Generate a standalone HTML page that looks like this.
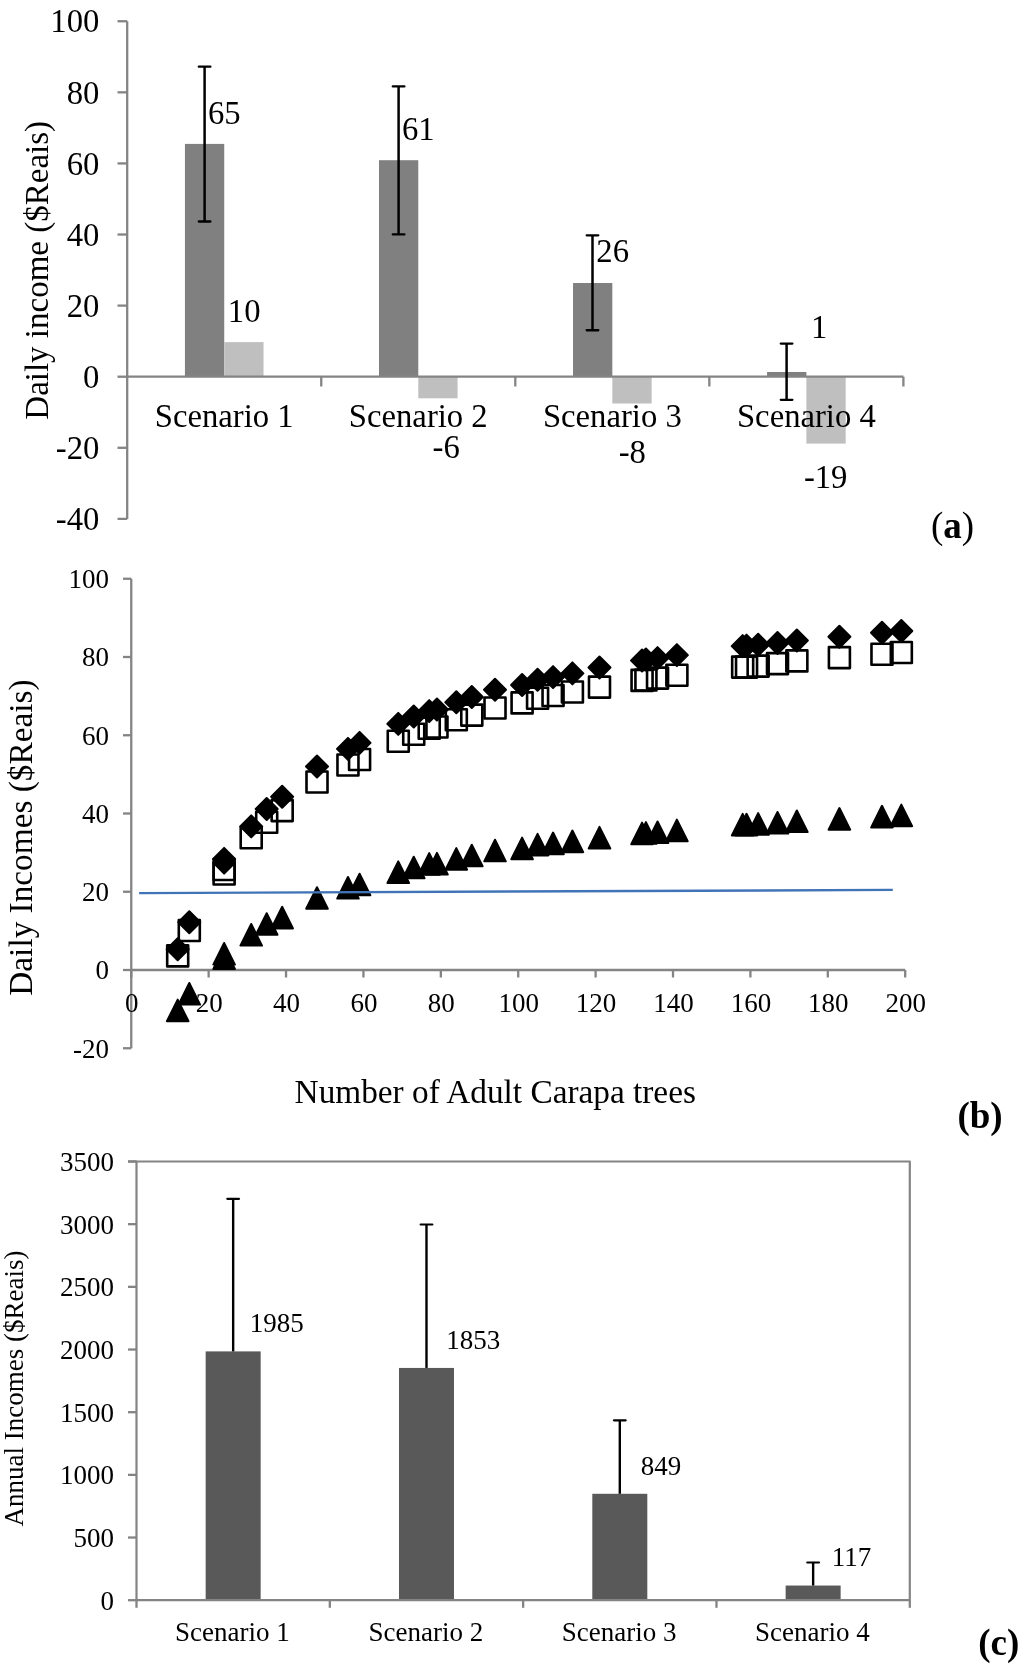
<!DOCTYPE html>
<html><head><meta charset="utf-8"><title>Chart</title>
<style>
html,body{margin:0;padding:0;background:#fff;}
body{width:1024px;height:1668px;overflow:hidden;}
svg{display:block;will-change:transform;}
text{font-family:"Liberation Serif",serif;fill:#000;}
</style></head><body>
<svg width="1024" height="1668" viewBox="0 0 1024 1668">
<rect width="1024" height="1668" fill="#fff"/>
<line x1="127.20" y1="21.25" x2="127.20" y2="518.88" stroke="#848484" stroke-width="2.3"/>
<line x1="117.50" y1="518.88" x2="127.20" y2="518.88" stroke="#848484" stroke-width="2.3"/>
<text x="99.40" y="530.08" font-size="32.7" text-anchor="end">-40</text>
<line x1="117.50" y1="447.79" x2="127.20" y2="447.79" stroke="#848484" stroke-width="2.3"/>
<text x="99.40" y="458.99" font-size="32.7" text-anchor="end">-20</text>
<line x1="117.50" y1="376.70" x2="127.20" y2="376.70" stroke="#848484" stroke-width="2.3"/>
<text x="99.40" y="387.90" font-size="32.7" text-anchor="end">0</text>
<line x1="117.50" y1="305.61" x2="127.20" y2="305.61" stroke="#848484" stroke-width="2.3"/>
<text x="99.40" y="316.81" font-size="32.7" text-anchor="end">20</text>
<line x1="117.50" y1="234.52" x2="127.20" y2="234.52" stroke="#848484" stroke-width="2.3"/>
<text x="99.40" y="245.72" font-size="32.7" text-anchor="end">40</text>
<line x1="117.50" y1="163.43" x2="127.20" y2="163.43" stroke="#848484" stroke-width="2.3"/>
<text x="99.40" y="174.63" font-size="32.7" text-anchor="end">60</text>
<line x1="117.50" y1="92.34" x2="127.20" y2="92.34" stroke="#848484" stroke-width="2.3"/>
<text x="99.40" y="103.54" font-size="32.7" text-anchor="end">80</text>
<line x1="117.50" y1="21.25" x2="127.20" y2="21.25" stroke="#848484" stroke-width="2.3"/>
<text x="99.40" y="32.45" font-size="32.7" text-anchor="end">100</text>
<rect x="184.93" y="143.90" width="39.30" height="232.80" fill="#808080"/>
<rect x="224.23" y="342.10" width="39.30" height="34.60" fill="#bfbfbf"/>
<rect x="378.98" y="160.20" width="39.30" height="216.50" fill="#808080"/>
<rect x="418.28" y="376.70" width="39.30" height="21.60" fill="#bfbfbf"/>
<rect x="573.03" y="283.00" width="39.30" height="93.70" fill="#808080"/>
<rect x="612.33" y="376.70" width="39.30" height="26.80" fill="#bfbfbf"/>
<rect x="767.08" y="372.00" width="39.30" height="4.70" fill="#808080"/>
<rect x="806.38" y="376.70" width="39.30" height="66.90" fill="#bfbfbf"/>
<line x1="126.20" y1="376.70" x2="903.40" y2="376.70" stroke="#848484" stroke-width="2.3"/>
<line x1="321.25" y1="376.70" x2="321.25" y2="386.50" stroke="#848484" stroke-width="2.3"/>
<line x1="515.30" y1="376.70" x2="515.30" y2="386.50" stroke="#848484" stroke-width="2.3"/>
<line x1="709.35" y1="376.70" x2="709.35" y2="386.50" stroke="#848484" stroke-width="2.3"/>
<line x1="903.40" y1="376.70" x2="903.40" y2="386.50" stroke="#848484" stroke-width="2.3"/>
<line x1="204.60" y1="66.70" x2="204.60" y2="221.50" stroke="#000" stroke-width="2.5"/>
<line x1="198.80" y1="66.70" x2="210.40" y2="66.70" stroke="#000" stroke-width="2.3" stroke-linecap="round"/>
<line x1="198.80" y1="221.50" x2="210.40" y2="221.50" stroke="#000" stroke-width="2.3" stroke-linecap="round"/>
<line x1="398.60" y1="86.40" x2="398.60" y2="234.40" stroke="#000" stroke-width="2.5"/>
<line x1="392.80" y1="86.40" x2="404.40" y2="86.40" stroke="#000" stroke-width="2.3" stroke-linecap="round"/>
<line x1="392.80" y1="234.40" x2="404.40" y2="234.40" stroke="#000" stroke-width="2.3" stroke-linecap="round"/>
<line x1="592.50" y1="235.30" x2="592.50" y2="330.25" stroke="#000" stroke-width="2.5"/>
<line x1="586.70" y1="235.30" x2="598.30" y2="235.30" stroke="#000" stroke-width="2.3" stroke-linecap="round"/>
<line x1="586.70" y1="330.25" x2="598.30" y2="330.25" stroke="#000" stroke-width="2.3" stroke-linecap="round"/>
<line x1="786.60" y1="343.60" x2="786.60" y2="399.80" stroke="#000" stroke-width="2.5"/>
<line x1="780.80" y1="343.60" x2="792.40" y2="343.60" stroke="#000" stroke-width="2.3" stroke-linecap="round"/>
<line x1="780.80" y1="399.80" x2="792.40" y2="399.80" stroke="#000" stroke-width="2.3" stroke-linecap="round"/>
<text x="224.23" y="427.40" font-size="32.7" text-anchor="middle">Scenario 1</text>
<text x="418.28" y="427.40" font-size="32.7" text-anchor="middle">Scenario 2</text>
<text x="612.33" y="427.40" font-size="32.7" text-anchor="middle">Scenario 3</text>
<text x="806.38" y="427.40" font-size="32.7" text-anchor="middle">Scenario 4</text>
<text x="208.00" y="124.10" font-size="32.7">65</text>
<text x="401.90" y="140.10" font-size="32.7">61</text>
<text x="596.30" y="262.20" font-size="32.7">26</text>
<text x="811.00" y="338.10" font-size="32.7">1</text>
<text x="227.80" y="321.80" font-size="32.7">10</text>
<text x="432.60" y="458.10" font-size="32.7">-6</text>
<text x="618.70" y="462.70" font-size="32.7">-8</text>
<text x="803.90" y="488.10" font-size="32.7">-19</text>
<text transform="translate(48.1,419.7) rotate(-90)" font-size="33">Daily income ($Reais)</text>
<text x="931.0" y="538.0" font-size="37.0">(<tspan font-weight="bold">a</tspan>)</text>
<line x1="131.25" y1="578.75" x2="131.25" y2="1048.25" stroke="#848484" stroke-width="2.3"/>
<line x1="123.00" y1="1048.25" x2="131.25" y2="1048.25" stroke="#848484" stroke-width="2.3"/>
<text x="109.00" y="1057.55" font-size="27.0" text-anchor="end">-20</text>
<line x1="123.00" y1="970.00" x2="131.25" y2="970.00" stroke="#848484" stroke-width="2.3"/>
<text x="109.00" y="979.30" font-size="27.0" text-anchor="end">0</text>
<line x1="123.00" y1="891.75" x2="131.25" y2="891.75" stroke="#848484" stroke-width="2.3"/>
<text x="109.00" y="901.05" font-size="27.0" text-anchor="end">20</text>
<line x1="123.00" y1="813.50" x2="131.25" y2="813.50" stroke="#848484" stroke-width="2.3"/>
<text x="109.00" y="822.80" font-size="27.0" text-anchor="end">40</text>
<line x1="123.00" y1="735.25" x2="131.25" y2="735.25" stroke="#848484" stroke-width="2.3"/>
<text x="109.00" y="744.55" font-size="27.0" text-anchor="end">60</text>
<line x1="123.00" y1="657.00" x2="131.25" y2="657.00" stroke="#848484" stroke-width="2.3"/>
<text x="109.00" y="666.30" font-size="27.0" text-anchor="end">80</text>
<line x1="123.00" y1="578.75" x2="131.25" y2="578.75" stroke="#848484" stroke-width="2.3"/>
<text x="109.00" y="588.05" font-size="27.0" text-anchor="end">100</text>
<line x1="131.25" y1="970.00" x2="905.20" y2="970.00" stroke="#848484" stroke-width="2.3"/>
<line x1="131.25" y1="970.00" x2="131.25" y2="977.50" stroke="#848484" stroke-width="2.3"/>
<text x="131.75" y="1011.50" font-size="27.0" text-anchor="middle">0</text>
<line x1="208.64" y1="970.00" x2="208.64" y2="977.50" stroke="#848484" stroke-width="2.3"/>
<text x="209.14" y="1011.50" font-size="27.0" text-anchor="middle">20</text>
<line x1="286.04" y1="970.00" x2="286.04" y2="977.50" stroke="#848484" stroke-width="2.3"/>
<text x="286.54" y="1011.50" font-size="27.0" text-anchor="middle">40</text>
<line x1="363.44" y1="970.00" x2="363.44" y2="977.50" stroke="#848484" stroke-width="2.3"/>
<text x="363.94" y="1011.50" font-size="27.0" text-anchor="middle">60</text>
<line x1="440.83" y1="970.00" x2="440.83" y2="977.50" stroke="#848484" stroke-width="2.3"/>
<text x="441.33" y="1011.50" font-size="27.0" text-anchor="middle">80</text>
<line x1="518.22" y1="970.00" x2="518.22" y2="977.50" stroke="#848484" stroke-width="2.3"/>
<text x="518.72" y="1011.50" font-size="27.0" text-anchor="middle">100</text>
<line x1="595.62" y1="970.00" x2="595.62" y2="977.50" stroke="#848484" stroke-width="2.3"/>
<text x="596.12" y="1011.50" font-size="27.0" text-anchor="middle">120</text>
<line x1="673.01" y1="970.00" x2="673.01" y2="977.50" stroke="#848484" stroke-width="2.3"/>
<text x="673.51" y="1011.50" font-size="27.0" text-anchor="middle">140</text>
<line x1="750.41" y1="970.00" x2="750.41" y2="977.50" stroke="#848484" stroke-width="2.3"/>
<text x="750.91" y="1011.50" font-size="27.0" text-anchor="middle">160</text>
<line x1="827.80" y1="970.00" x2="827.80" y2="977.50" stroke="#848484" stroke-width="2.3"/>
<text x="828.30" y="1011.50" font-size="27.0" text-anchor="middle">180</text>
<line x1="905.20" y1="970.00" x2="905.20" y2="977.50" stroke="#848484" stroke-width="2.3"/>
<text x="905.70" y="1011.50" font-size="27.0" text-anchor="middle">200</text>
<text x="294.60" y="1102.50" font-size="33.3">Number of Adult Carapa trees</text>
<text transform="translate(32.3,995.7) rotate(-90)" font-size="33.3">Daily Incomes ($Reais)</text>
<text x="957.4" y="1128.4" font-size="37.0" font-weight="bold">(b)</text>
<g stroke="#000" stroke-width="2.6" stroke-linejoin="round" fill="none">
<rect x="167.19" y="945.40" width="21" height="21"/>
<rect x="178.80" y="920.00" width="21" height="21"/>
<rect x="213.62" y="859.00" width="21" height="21"/>
<rect x="213.62" y="863.50" width="21" height="21"/>
<rect x="240.71" y="827.30" width="21" height="21"/>
<rect x="256.19" y="811.80" width="21" height="21"/>
<rect x="271.67" y="800.10" width="21" height="21"/>
<rect x="306.50" y="771.50" width="21" height="21"/>
<rect x="337.46" y="754.50" width="21" height="21"/>
<rect x="349.07" y="749.00" width="21" height="21"/>
<rect x="387.76" y="730.70" width="21" height="21"/>
<rect x="403.24" y="723.70" width="21" height="21"/>
<rect x="418.72" y="717.80" width="21" height="21"/>
<rect x="426.46" y="716.50" width="21" height="21"/>
<rect x="445.81" y="709.30" width="21" height="21"/>
<rect x="461.29" y="704.60" width="21" height="21"/>
<rect x="484.51" y="697.50" width="21" height="21"/>
<rect x="511.59" y="692.40" width="21" height="21"/>
<rect x="527.07" y="687.70" width="21" height="21"/>
<rect x="542.55" y="685.00" width="21" height="21"/>
<rect x="561.90" y="681.50" width="21" height="21"/>
<rect x="588.99" y="676.60" width="21" height="21"/>
<rect x="631.56" y="669.90" width="21" height="21"/>
<rect x="635.43" y="669.50" width="21" height="21"/>
<rect x="647.04" y="667.60" width="21" height="21"/>
<rect x="666.38" y="664.80" width="21" height="21"/>
<rect x="732.17" y="656.60" width="21" height="21"/>
<rect x="736.04" y="656.60" width="21" height="21"/>
<rect x="747.65" y="655.60" width="21" height="21"/>
<rect x="767.00" y="653.10" width="21" height="21"/>
<rect x="786.35" y="650.40" width="21" height="21"/>
<rect x="828.91" y="647.10" width="21" height="21"/>
<rect x="871.48" y="643.70" width="21" height="21"/>
<rect x="890.83" y="642.00" width="21" height="21"/>
</g>
<g stroke="#000" stroke-width="2" stroke-linejoin="round" fill="#000">
<path d="M177.69 938.20L188.69 949.20L177.69 960.20L166.69 949.20Z"/>
<path d="M189.30 911.20L200.30 922.20L189.30 933.20L178.30 922.20Z"/>
<path d="M224.12 847.90L235.12 858.90L224.12 869.90L213.12 858.90Z"/>
<path d="M224.12 851.60L235.12 862.60L224.12 873.60L213.12 862.60Z"/>
<path d="M251.21 815.40L262.21 826.40L251.21 837.40L240.21 826.40Z"/>
<path d="M266.69 798.00L277.69 809.00L266.69 820.00L255.69 809.00Z"/>
<path d="M282.17 785.70L293.17 796.70L282.17 807.70L271.17 796.70Z"/>
<path d="M317.00 755.50L328.00 766.50L317.00 777.50L306.00 766.50Z"/>
<path d="M347.96 737.90L358.96 748.90L347.96 759.90L336.96 748.90Z"/>
<path d="M359.57 731.90L370.57 742.90L359.57 753.90L348.57 742.90Z"/>
<path d="M398.26 712.90L409.26 723.90L398.26 734.90L387.26 723.90Z"/>
<path d="M413.74 705.50L424.74 716.50L413.74 727.50L402.74 716.50Z"/>
<path d="M429.22 700.10L440.22 711.10L429.22 722.10L418.22 711.10Z"/>
<path d="M436.96 698.50L447.96 709.50L436.96 720.50L425.96 709.50Z"/>
<path d="M456.31 691.30L467.31 702.30L456.31 713.30L445.31 702.30Z"/>
<path d="M471.79 686.00L482.79 697.00L471.79 708.00L460.79 697.00Z"/>
<path d="M495.01 678.70L506.01 689.70L495.01 700.70L484.01 689.70Z"/>
<path d="M522.09 674.00L533.09 685.00L522.09 696.00L511.09 685.00Z"/>
<path d="M537.57 668.80L548.57 679.80L537.57 690.80L526.57 679.80Z"/>
<path d="M553.05 666.10L564.05 677.10L553.05 688.10L542.05 677.10Z"/>
<path d="M572.40 662.40L583.40 673.40L572.40 684.40L561.40 673.40Z"/>
<path d="M599.49 656.50L610.49 667.50L599.49 678.50L588.49 667.50Z"/>
<path d="M642.06 649.50L653.06 660.50L642.06 671.50L631.06 660.50Z"/>
<path d="M645.93 648.50L656.93 659.50L645.93 670.50L634.93 659.50Z"/>
<path d="M657.54 647.10L668.54 658.10L657.54 669.10L646.54 658.10Z"/>
<path d="M676.88 644.10L687.88 655.10L676.88 666.10L665.88 655.10Z"/>
<path d="M742.67 635.10L753.67 646.10L742.67 657.10L731.67 646.10Z"/>
<path d="M746.54 634.60L757.54 645.60L746.54 656.60L735.54 645.60Z"/>
<path d="M758.15 633.80L769.15 644.80L758.15 655.80L747.15 644.80Z"/>
<path d="M777.50 632.00L788.50 643.00L777.50 654.00L766.50 643.00Z"/>
<path d="M796.85 629.50L807.85 640.50L796.85 651.50L785.85 640.50Z"/>
<path d="M839.41 625.70L850.41 636.70L839.41 647.70L828.41 636.70Z"/>
<path d="M881.98 621.80L892.98 632.80L881.98 643.80L870.98 632.80Z"/>
<path d="M901.33 620.00L912.33 631.00L901.33 642.00L890.33 631.00Z"/>
<path d="M177.69 999.60L188.49 1021.20L166.89 1021.20Z"/>
<path d="M189.30 983.00L200.10 1004.60L178.50 1004.60Z"/>
<path d="M224.12 943.00L234.92 964.60L213.32 964.60Z"/>
<path d="M224.12 947.40L234.92 969.00L213.32 969.00Z"/>
<path d="M251.21 924.00L262.01 945.60L240.41 945.60Z"/>
<path d="M266.69 913.20L277.49 934.80L255.89 934.80Z"/>
<path d="M282.17 906.80L292.97 928.40L271.37 928.40Z"/>
<path d="M317.00 887.20L327.80 908.80L306.20 908.80Z"/>
<path d="M347.96 877.00L358.76 898.60L337.16 898.60Z"/>
<path d="M359.57 873.70L370.37 895.30L348.77 895.30Z"/>
<path d="M398.26 861.40L409.06 883.00L387.46 883.00Z"/>
<path d="M413.74 856.70L424.54 878.30L402.94 878.30Z"/>
<path d="M429.22 853.10L440.02 874.70L418.42 874.70Z"/>
<path d="M436.96 852.90L447.76 874.50L426.16 874.50Z"/>
<path d="M456.31 848.10L467.11 869.70L445.51 869.70Z"/>
<path d="M471.79 844.70L482.59 866.30L460.99 866.30Z"/>
<path d="M495.01 839.75L505.81 861.35L484.21 861.35Z"/>
<path d="M522.09 837.65L532.89 859.25L511.29 859.25Z"/>
<path d="M537.57 833.85L548.37 855.45L526.77 855.45Z"/>
<path d="M553.05 832.55L563.85 854.15L542.25 854.15Z"/>
<path d="M572.40 830.55L583.20 852.15L561.60 852.15Z"/>
<path d="M599.49 826.90L610.29 848.50L588.69 848.50Z"/>
<path d="M642.06 822.60L652.86 844.20L631.26 844.20Z"/>
<path d="M645.93 822.10L656.73 843.70L635.13 843.70Z"/>
<path d="M657.54 821.45L668.34 843.05L646.74 843.05Z"/>
<path d="M676.88 819.65L687.68 841.25L666.08 841.25Z"/>
<path d="M742.67 813.85L753.47 835.45L731.87 835.45Z"/>
<path d="M746.54 813.80L757.34 835.40L735.74 835.40Z"/>
<path d="M758.15 813.10L768.95 834.70L747.35 834.70Z"/>
<path d="M777.50 811.95L788.30 833.55L766.70 833.55Z"/>
<path d="M796.85 810.45L807.65 832.05L786.05 832.05Z"/>
<path d="M839.41 808.05L850.21 829.65L828.61 829.65Z"/>
<path d="M881.98 805.80L892.78 827.40L871.18 827.40Z"/>
<path d="M901.33 804.60L912.13 826.20L890.53 826.20Z"/>
</g>
<line x1="139.10" y1="893.10" x2="892.80" y2="889.90" stroke="#4174b7" stroke-width="2.4"/>
<line x1="128.00" y1="1600.20" x2="136.50" y2="1600.20" stroke="#848484" stroke-width="2.3"/>
<text x="114.00" y="1609.60" font-size="27.0" text-anchor="end">0</text>
<line x1="128.00" y1="1537.53" x2="136.50" y2="1537.53" stroke="#848484" stroke-width="2.3"/>
<text x="114.00" y="1546.93" font-size="27.0" text-anchor="end">500</text>
<line x1="128.00" y1="1474.86" x2="136.50" y2="1474.86" stroke="#848484" stroke-width="2.3"/>
<text x="114.00" y="1484.26" font-size="27.0" text-anchor="end">1000</text>
<line x1="128.00" y1="1412.19" x2="136.50" y2="1412.19" stroke="#848484" stroke-width="2.3"/>
<text x="114.00" y="1421.59" font-size="27.0" text-anchor="end">1500</text>
<line x1="128.00" y1="1349.52" x2="136.50" y2="1349.52" stroke="#848484" stroke-width="2.3"/>
<text x="114.00" y="1358.92" font-size="27.0" text-anchor="end">2000</text>
<line x1="128.00" y1="1286.85" x2="136.50" y2="1286.85" stroke="#848484" stroke-width="2.3"/>
<text x="114.00" y="1296.25" font-size="27.0" text-anchor="end">2500</text>
<line x1="128.00" y1="1224.18" x2="136.50" y2="1224.18" stroke="#848484" stroke-width="2.3"/>
<text x="114.00" y="1233.58" font-size="27.0" text-anchor="end">3000</text>
<line x1="128.00" y1="1161.51" x2="136.50" y2="1161.51" stroke="#848484" stroke-width="2.3"/>
<text x="114.00" y="1170.91" font-size="27.0" text-anchor="end">3500</text>
<rect x="205.66" y="1351.40" width="55.00" height="248.80" fill="#595959"/>
<line x1="233.16" y1="1198.80" x2="233.16" y2="1351.40" stroke="#000" stroke-width="2.4"/>
<line x1="227.31" y1="1198.80" x2="239.01" y2="1198.80" stroke="#000" stroke-width="2.2" stroke-linecap="round"/>
<rect x="398.99" y="1367.94" width="55.00" height="232.26" fill="#595959"/>
<line x1="426.49" y1="1224.50" x2="426.49" y2="1367.94" stroke="#000" stroke-width="2.4"/>
<line x1="420.64" y1="1224.50" x2="432.34" y2="1224.50" stroke="#000" stroke-width="2.2" stroke-linecap="round"/>
<rect x="592.31" y="1493.79" width="55.00" height="106.41" fill="#595959"/>
<line x1="619.81" y1="1420.30" x2="619.81" y2="1493.79" stroke="#000" stroke-width="2.4"/>
<line x1="613.96" y1="1420.30" x2="625.66" y2="1420.30" stroke="#000" stroke-width="2.2" stroke-linecap="round"/>
<rect x="785.64" y="1585.54" width="55.00" height="14.66" fill="#595959"/>
<line x1="813.14" y1="1562.50" x2="813.14" y2="1585.54" stroke="#000" stroke-width="2.4"/>
<line x1="807.29" y1="1562.50" x2="818.99" y2="1562.50" stroke="#000" stroke-width="2.2" stroke-linecap="round"/>
<path d="M136.5 1600.2V1161.5H909.8V1600.2Z" fill="none" stroke="#848484" stroke-width="2.2" stroke-linejoin="round"/>
<line x1="136.50" y1="1161.50" x2="128.00" y2="1161.50" stroke="#848484" stroke-width="2.3"/>
<line x1="136.50" y1="1600.20" x2="136.50" y2="1607.80" stroke="#848484" stroke-width="2.3"/>
<line x1="329.82" y1="1600.20" x2="329.82" y2="1607.80" stroke="#848484" stroke-width="2.3"/>
<line x1="523.15" y1="1600.20" x2="523.15" y2="1607.80" stroke="#848484" stroke-width="2.3"/>
<line x1="716.47" y1="1600.20" x2="716.47" y2="1607.80" stroke="#848484" stroke-width="2.3"/>
<line x1="909.80" y1="1600.20" x2="909.80" y2="1607.80" stroke="#848484" stroke-width="2.3"/>
<text x="232.46" y="1641.00" font-size="27.0" text-anchor="middle">Scenario 1</text>
<text x="425.79" y="1641.00" font-size="27.0" text-anchor="middle">Scenario 2</text>
<text x="619.11" y="1641.00" font-size="27.0" text-anchor="middle">Scenario 3</text>
<text x="812.44" y="1641.00" font-size="27.0" text-anchor="middle">Scenario 4</text>
<text x="249.80" y="1332.30" font-size="27.0">1985</text>
<text x="446.30" y="1348.50" font-size="27.0">1853</text>
<text x="640.70" y="1474.60" font-size="27.0">849</text>
<text x="831.70" y="1566.30" font-size="27.0">117</text>
<text transform="translate(22.9,1526.5) rotate(-90)" font-size="27.0">Annual Incomes ($Reais)</text>
<text x="978.2" y="1654.5" font-size="37.0" font-weight="bold">(c)</text>
</svg>
</body></html>
